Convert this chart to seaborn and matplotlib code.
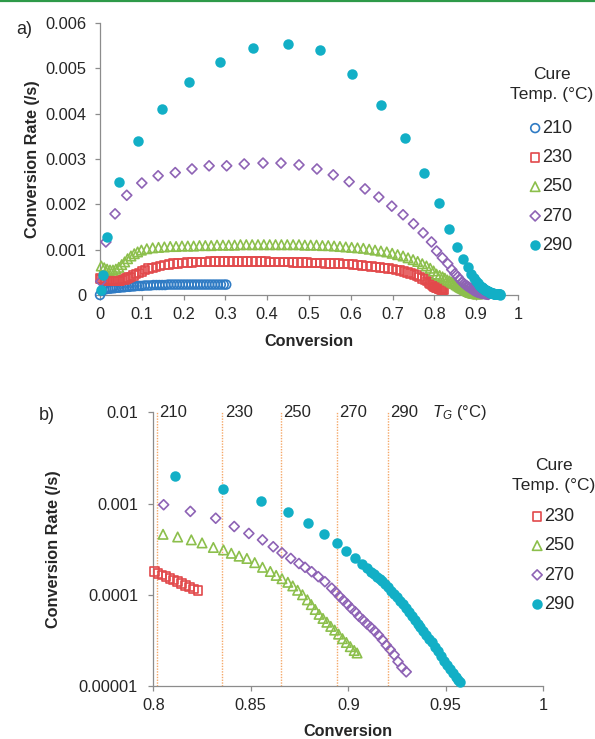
import numpy as np
import pandas as pd
import matplotlib
matplotlib.use('Agg')
import matplotlib.pyplot as plt
import seaborn as sns
from matplotlib.lines import Line2D
from matplotlib.ticker import FixedLocator, FixedFormatter, NullLocator

sns.set_style('ticks')
plt.rcParams['font.family'] = ['Liberation Sans', 'DejaVu Sans']
plt.rcParams['mathtext.fontset'] = 'custom'
plt.rcParams['mathtext.rm'] = 'Liberation Sans'
plt.rcParams['mathtext.it'] = 'Liberation Sans:italic'

# 轉化率 (x) 與 轉化速率 (y, 單位 1e-3 /s)，依固化溫度分組
conv_210 = [0.000, 0.005, 0.010, 0.015, 0.020, 0.025, 0.030, 0.035, 0.040, 0.046,
            0.052, 0.058, 0.064, 0.070, 0.076, 0.082, 0.088, 0.094, 0.100, 0.107,
            0.114, 0.121, 0.128, 0.135, 0.142, 0.149, 0.156, 0.163, 0.170, 0.177,
            0.184, 0.191, 0.198, 0.205, 0.212, 0.219, 0.226, 0.233, 0.240, 0.247,
            0.254, 0.261, 0.268, 0.275, 0.282, 0.289, 0.296, 0.302]
rate_210 = [0.00, 0.09, 0.12, 0.13, 0.14, 0.14, 0.15, 0.15, 0.16, 0.16,
            0.17, 0.17, 0.18, 0.18, 0.19, 0.19, 0.20, 0.20, 0.20, 0.21,
            0.21, 0.21, 0.22, 0.22, 0.22, 0.22, 0.22, 0.23, 0.23, 0.23,
            0.23, 0.23, 0.23, 0.23, 0.23, 0.23, 0.23, 0.23, 0.23, 0.23,
            0.23, 0.23, 0.23, 0.23, 0.23, 0.23, 0.23, 0.23]

conv_230 = [0.000, 0.004, 0.008, 0.012, 0.016, 0.020, 0.024, 0.028, 0.032, 0.036,
            0.040, 0.044, 0.048, 0.053, 0.058, 0.063, 0.068, 0.074, 0.080, 0.086,
            0.093, 0.100, 0.108, 0.116, 0.125, 0.134, 0.144, 0.154, 0.165, 0.176,
            0.187, 0.198, 0.209, 0.220, 0.231, 0.242, 0.253, 0.264, 0.275, 0.286,
            0.297, 0.308, 0.319, 0.330, 0.341, 0.352, 0.363, 0.374, 0.385, 0.396,
            0.407, 0.418, 0.429, 0.440, 0.451, 0.462, 0.473, 0.484, 0.495, 0.506,
            0.517, 0.528, 0.539, 0.550, 0.561, 0.572, 0.583, 0.594, 0.605, 0.616,
            0.627, 0.638, 0.649, 0.660, 0.670, 0.680, 0.690, 0.700, 0.709, 0.718,
            0.727, 0.735, 0.743, 0.751, 0.758, 0.765, 0.771, 0.777, 0.782, 0.787,
            0.791, 0.794, 0.797, 0.8005, 0.8025, 0.8045, 0.8065, 0.8085, 0.8105, 0.8125,
            0.8145, 0.8165, 0.8185, 0.8205, 0.823]
rate_230 = [0.36, 0.35, 0.34, 0.33, 0.33, 0.32, 0.32, 0.31, 0.31, 0.31,
            0.31, 0.31, 0.32, 0.33, 0.34, 0.36, 0.38, 0.40, 0.43, 0.46,
            0.49, 0.52, 0.55, 0.58, 0.60, 0.62, 0.64, 0.66, 0.67, 0.69,
            0.70, 0.71, 0.72, 0.72, 0.73, 0.73, 0.73, 0.74, 0.74, 0.74,
            0.74, 0.74, 0.74, 0.74, 0.74, 0.74, 0.74, 0.74, 0.74, 0.74,
            0.73, 0.73, 0.73, 0.73, 0.73, 0.72, 0.72, 0.72, 0.72, 0.71,
            0.71, 0.71, 0.70, 0.70, 0.69, 0.69, 0.68, 0.68, 0.67, 0.66,
            0.65, 0.64, 0.63, 0.62, 0.61, 0.60, 0.58, 0.57, 0.55, 0.54,
            0.52, 0.50, 0.48, 0.45, 0.43, 0.40, 0.37, 0.34, 0.31, 0.28,
            0.25, 0.23, 0.205, 0.180, 0.172, 0.165, 0.158, 0.151, 0.145, 0.139,
            0.133, 0.127, 0.122, 0.116, 0.111]

conv_250 = [0.003, 0.010, 0.017, 0.024, 0.031, 0.038, 0.045, 0.052, 0.059, 0.066,
            0.074, 0.082, 0.090, 0.099, 0.112, 0.126, 0.140, 0.154, 0.168, 0.182,
            0.196, 0.210, 0.224, 0.238, 0.252, 0.266, 0.280, 0.294, 0.308, 0.322,
            0.336, 0.350, 0.364, 0.378, 0.392, 0.406, 0.420, 0.434, 0.448, 0.462,
            0.476, 0.490, 0.504, 0.518, 0.532, 0.546, 0.560, 0.574, 0.588, 0.602,
            0.616, 0.630, 0.644, 0.658, 0.672, 0.686, 0.699, 0.712, 0.725, 0.737,
            0.749, 0.760, 0.771, 0.781, 0.790, 0.798, 0.805, 0.8125, 0.8195, 0.825,
            0.8308, 0.836, 0.840, 0.844, 0.848, 0.852, 0.856, 0.860, 0.863, 0.866,
            0.869, 0.8715, 0.874, 0.8765, 0.879, 0.881, 0.883, 0.885, 0.887, 0.889,
            0.891, 0.893, 0.895, 0.897, 0.899, 0.901, 0.903, 0.9045]
rate_250 = [0.64, 0.60, 0.57, 0.55, 0.55, 0.57, 0.61, 0.67, 0.73, 0.80,
            0.86, 0.91, 0.95, 0.99, 1.02, 1.04, 1.05, 1.06, 1.07, 1.07,
            1.08, 1.08, 1.08, 1.09, 1.09, 1.09, 1.10, 1.10, 1.10, 1.10,
            1.11, 1.11, 1.11, 1.11, 1.11, 1.11, 1.11, 1.11, 1.11, 1.11,
            1.11, 1.10, 1.10, 1.10, 1.09, 1.09, 1.08, 1.07, 1.06, 1.05,
            1.04, 1.03, 1.01, 0.99, 0.97, 0.95, 0.92, 0.89, 0.86, 0.82,
            0.78, 0.74, 0.69, 0.64, 0.59, 0.53, 0.46, 0.43, 0.40, 0.37,
            0.33, 0.31, 0.285, 0.265, 0.250, 0.225, 0.200, 0.180, 0.163, 0.150,
            0.137, 0.125, 0.112, 0.100, 0.088, 0.078, 0.069, 0.061, 0.055, 0.050,
            0.045, 0.041, 0.037, 0.033, 0.030, 0.027, 0.0245, 0.023]

conv_270 = [0.002, 0.014, 0.036, 0.064, 0.100, 0.139, 0.180, 0.220, 0.261, 0.303,
            0.345, 0.390, 0.433, 0.476, 0.519, 0.558, 0.596, 0.634, 0.667, 0.698,
            0.725, 0.750, 0.773, 0.793, 0.8053, 0.819, 0.832, 0.8415, 0.849, 0.856,
            0.8615, 0.866, 0.8705, 0.8747, 0.8778, 0.8812, 0.8846, 0.888, 0.8915, 0.8935,
            0.8955, 0.8975, 0.8995, 0.9015, 0.9035, 0.9055, 0.9075, 0.9095, 0.9115, 0.9135,
            0.9155, 0.9175, 0.9195, 0.9215, 0.9235, 0.9255, 0.9275, 0.9297]
rate_270 = [0.30, 1.17, 1.79, 2.20, 2.47, 2.63, 2.70, 2.78, 2.85, 2.85,
            2.89, 2.91, 2.91, 2.87, 2.78, 2.65, 2.50, 2.34, 2.16, 1.96,
            1.77, 1.57, 1.37, 1.17, 0.97, 0.82, 0.69, 0.56, 0.47, 0.40,
            0.336, 0.288, 0.250, 0.220, 0.200, 0.179, 0.158, 0.139, 0.118, 0.107,
            0.096, 0.087, 0.079, 0.071, 0.065, 0.058, 0.053, 0.048, 0.044, 0.040,
            0.036, 0.032, 0.028, 0.025, 0.022, 0.0185, 0.016, 0.0143]

conv_290 = [0.003, 0.006, 0.017, 0.046, 0.090, 0.148, 0.214, 0.286, 0.367, 0.450,
            0.526, 0.603, 0.672, 0.730, 0.775, 0.811, 0.836, 0.855, 0.869, 0.8795,
            0.8875, 0.894, 0.899, 0.9034, 0.907, 0.9095, 0.9115, 0.913, 0.9145, 0.916,
            0.9175, 0.919, 0.9205, 0.922, 0.9235, 0.925, 0.9265, 0.928, 0.9295, 0.931,
            0.9325, 0.934, 0.9355, 0.937, 0.9385, 0.940, 0.9415, 0.943, 0.9445, 0.946,
            0.9475, 0.949, 0.9505, 0.952, 0.9535, 0.955, 0.9565, 0.9575]
rate_290 = [0.11, 0.44, 1.28, 2.50, 3.40, 4.10, 4.70, 5.14, 5.45, 5.53,
            5.40, 4.88, 4.20, 3.46, 2.70, 2.02, 1.46, 1.06, 0.80, 0.607,
            0.46, 0.37, 0.304, 0.255, 0.217, 0.195, 0.178, 0.167, 0.158, 0.150,
            0.141, 0.131, 0.121, 0.111, 0.102, 0.094, 0.086, 0.079, 0.071, 0.064,
            0.058, 0.053, 0.048, 0.044, 0.040, 0.036, 0.033, 0.030, 0.027, 0.024,
            0.0215, 0.019, 0.017, 0.0152, 0.0138, 0.0127, 0.0115, 0.011]

temps = ['210', '230', '250', '270', '290']
all_conv = [conv_210, conv_230, conv_250, conv_270, conv_290]
all_rate = [rate_210, rate_230, rate_250, rate_270, rate_290]

# T_G 垂直線位置 (轉化率)
tg_labels = ['210', '230', '250', '270', '290']
tg_conv = [0.8017, 0.8354, 0.8654, 0.894, 0.9202]

colors = {'210': '#2f7bc4', '230': '#e2494b', '250': '#8cbf4c',
          '270': '#8e63b5', '290': '#12afc6'}
markers = {'210': 'o', '230': 's', '250': '^', '270': 'D', '290': 'o'}
sizes = {'210': 40, '230': 38, '250': 46, '270': 26, '290': 40}

frames = []
for t, cv, rt in zip(temps, all_conv, all_rate):
    frames.append(pd.DataFrame({'conv': cv, 'rate': np.array(rt) * 1e-3, 'temp': t}))
df = pd.concat(frames, ignore_index=True)

W, H = 595, 739
fig = plt.figure(figsize=(W / 100, H / 100), dpi=100)
ax1 = fig.add_axes([100 / W, 1 - 295 / H, 418 / W, 272 / H])
ax2 = fig.add_axes([153.3 / W, 1 - 686 / H, 390 / W, 273.7 / H])

spine_c = '#8c8c8c'
text_c = '#262626'


def draw_series(ax, data):
    for t in temps:
        d = data[data.temp == t]
        if d.empty:
            continue
        face = colors[t] if t == '290' else 'none'
        sns.scatterplot(data=d, x='conv', y='rate', ax=ax, marker=markers[t],
                        s=sizes[t], color=colors[t], facecolors=face,
                        edgecolor=colors[t], linewidth=1.2, label=t,
                        clip_on=False, zorder=3)


def style_axes(ax, ypad):
    for sp in ['top', 'right']:
        ax.spines[sp].set_visible(False)
    for sp in ['left', 'bottom']:
        ax.spines[sp].set_color(spine_c)
        ax.spines[sp].set_linewidth(0.9)
    ax.tick_params(axis='both', which='major', direction='out', length=3.6,
                   width=0.9, color=spine_c, labelsize=11.8, labelcolor=text_c)
    ax.tick_params(axis='y', pad=ypad)
    ax.tick_params(axis='x', pad=5)
    ax.set_xlabel('Conversion', fontsize=11.7, fontweight='bold', color=text_c)
    ax.set_ylabel('Conversion Rate (/s)', fontsize=11.7, fontweight='bold', color=text_c)


def add_legend(ax, x_px, y_px, gap):
    leg = ax.legend(title='Cure\nTemp. (°C)', loc='upper left',
                    bbox_to_anchor=(x_px / W, 1 - y_px / H), bbox_transform=fig.transFigure,
                    frameon=False, fontsize=13, title_fontsize=12.5, handlelength=0.5,
                    handletextpad=0.15, labelspacing=0.68, borderpad=0, borderaxespad=0)
    title = leg.get_title()
    title.set_multialignment('center')
    title.set_linespacing(1.4)
    title.set_color(text_c)
    leg._legend_box.sep = gap
    for txt in leg.get_texts():
        txt.set_color(text_c)


# a) 線性尺度
draw_series(ax1, df)
ax1.set_xlim(0, 1)
ax1.set_ylim(0, 0.006)
ax1.xaxis.set_major_locator(FixedLocator(np.arange(0, 1.01, 0.1)))
ax1.xaxis.set_major_formatter(FixedFormatter(['0', '0.1', '0.2', '0.3', '0.4', '0.5',
                                              '0.6', '0.7', '0.8', '0.9', '1']))
ax1.yaxis.set_major_locator(FixedLocator(np.arange(0, 0.0061, 0.001)))
ax1.yaxis.set_major_formatter(FixedFormatter(['0', '0.001', '0.002', '0.003',
                                              '0.004', '0.005', '0.006']))
style_axes(ax1, 6)
ax1.yaxis.set_label_coords(-0.1435, 0.5)
ax1.xaxis.set_label_coords(0.5, -0.143)
add_legend(ax1, 510, 67, 13)

# b) 對數尺度，只取轉化率 >= 0.8
for xv in tg_conv:
    ax2.axvline(xv, color='#f5a868', ls=(0, (1, 1)), lw=1.0, zorder=1)
draw_series(ax2, df[df.conv >= 0.8])
ax2.set_yscale('log')
ax2.set_xlim(0.8, 1)
ax2.set_ylim(1e-5, 1e-2)
ax2.xaxis.set_major_locator(FixedLocator([0.8, 0.85, 0.9, 0.95, 1.0]))
ax2.xaxis.set_major_formatter(FixedFormatter(['0.8', '0.85', '0.9', '0.95', '1']))
ax2.yaxis.set_major_locator(FixedLocator([1e-5, 1e-4, 1e-3, 1e-2]))
ax2.yaxis.set_major_formatter(FixedFormatter(['0.00001', '0.0001', '0.001', '0.01']))
ax2.yaxis.set_minor_locator(NullLocator())
style_axes(ax2, 7.5)
ax2.yaxis.set_label_coords(-0.237, 0.5)
ax2.xaxis.set_label_coords(0.5, -0.139)
for lab, xv in zip(tg_labels, tg_conv):
    ax2.annotate(lab, (xv, 1e-2), xytext=(2, 0), textcoords='offset points',
                 ha='left', va='center', fontsize=12, color=text_c, annotation_clip=False)
ax2.annotate('$T_G$ (°C)', (0.9427, 1e-2), ha='left', va='center', fontsize=12,
             color=text_c, annotation_clip=False)
add_legend(ax2, 512, 458, 11)

# 面板標籤與頂部綠線
fig.text(16 / W, 1 - 29 / H, 'a)', fontsize=13, va='center', ha='left', color=text_c)
fig.text(39 / W, 1 - 415 / H, 'b)', fontsize=13, va='center', ha='left', color=text_c)
fig.add_artist(Line2D([0, 1], [1 - 1 / H, 1 - 1 / H], color='#2e9a49', lw=1.6,
                      transform=fig.transFigure))

fig.savefig('out.png', dpi=100)
